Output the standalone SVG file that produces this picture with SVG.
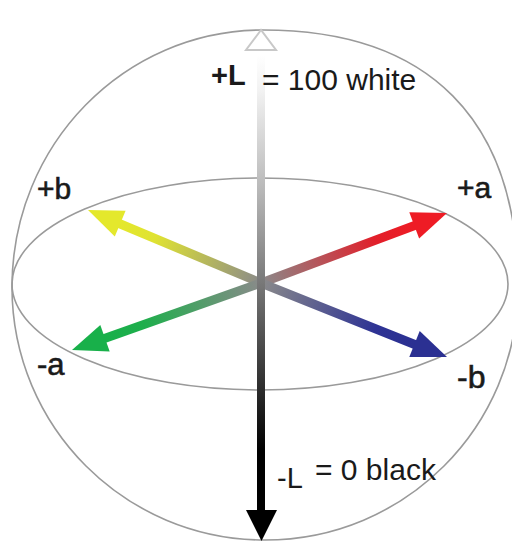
<svg xmlns="http://www.w3.org/2000/svg" width="512" height="542" viewBox="0 0 512 542">
<style>
.outline{fill:none;stroke:#9a9a9a;stroke-width:1.6}
.lbl{font-family:"Liberation Sans",Arial,sans-serif;fill:#1a1a1a}
.ax{stroke:#1a1a1a;stroke-width:0.6}
</style>
<defs>
<linearGradient id="gL" gradientUnits="userSpaceOnUse" x1="0" y1="55" x2="0" y2="505">
<stop offset="0" stop-color="#ffffff"/>
<stop offset="0.08" stop-color="#f2f2f2"/>
<stop offset="0.3" stop-color="#b8b8b8"/>
<stop offset="0.5" stop-color="#7a7a7a"/>
<stop offset="0.7" stop-color="#3a3a3a"/>
<stop offset="0.88" stop-color="#000000"/>
</linearGradient>
<linearGradient id="gR" gradientUnits="userSpaceOnUse" x1="261" y1="283" x2="414" y2="225">
<stop offset="0" stop-color="#8a8a8a"/>
<stop offset="0.75" stop-color="#e21f2a"/>
<stop offset="1" stop-color="#ee1c25"/>
</linearGradient>
<linearGradient id="gB" gradientUnits="userSpaceOnUse" x1="261" y1="283" x2="414" y2="344">
<stop offset="0" stop-color="#8a8a8a"/>
<stop offset="0.75" stop-color="#2e3394"/>
<stop offset="1" stop-color="#2b3092"/>
</linearGradient>
<linearGradient id="gY" gradientUnits="userSpaceOnUse" x1="261" y1="283" x2="120" y2="224">
<stop offset="0" stop-color="#8a8a8a"/>
<stop offset="0.75" stop-color="#dfe232"/>
<stop offset="1" stop-color="#e4e82c"/>
</linearGradient>
<linearGradient id="gG" gradientUnits="userSpaceOnUse" x1="261" y1="283" x2="105" y2="338">
<stop offset="0" stop-color="#8a8a8a"/>
<stop offset="0.75" stop-color="#1fae4c"/>
<stop offset="1" stop-color="#18b04a"/>
</linearGradient>
</defs>

<g id="sphere">
<path class="outline" d="M263,30 C429,30 518,120 518,287 C518,427 405,540 265,540 C125,540 12,427 12,287 C12,145 124,30 263,30 Z"/>
<ellipse class="outline" cx="260" cy="284" rx="248" ry="106"/>
</g>

<g id="connectors">
<g id="arrow-plus-a">
<line x1="261" y1="283" x2="416" y2="225" stroke="url(#gR)" stroke-width="9"/>
<polygon points="447,213 409.3,212.2 419.1,238.4" fill="#ee1c25"/>
</g>
<g id="arrow-minus-b">
<line x1="261" y1="283" x2="416" y2="345" stroke="url(#gB)" stroke-width="9"/>
<polygon points="447,357 409.3,357.1 419.7,331" fill="#2b3092"/>
</g>
<g id="arrow-plus-b">
<line x1="261" y1="283" x2="118" y2="223" stroke="url(#gY)" stroke-width="9"/>
<polygon points="88,210 125.6,210.7 114.8,236.5" fill="#e4e82c"/>
</g>
<g id="arrow-minus-a">
<line x1="261" y1="283" x2="103" y2="339" stroke="url(#gG)" stroke-width="9"/>
<polygon points="72,350 100.3,325.1 109.7,351.5" fill="#18b04a"/>
</g>
<g id="axis-L">
<rect x="257" y="50" width="8" height="462" fill="url(#gL)"/>
<polygon points="261,30 246,50 276,50" fill="#ffffff" stroke="#c8c8c8" stroke-width="2"/>
<polygon points="246,510 277,510 261.5,541" fill="#000000"/>
</g>
</g>

<g id="label-L-top">
<text class="lbl" x="211" y="85" font-size="29" font-weight="bold">+L</text>
<text class="lbl" x="262" y="90" font-size="30">= 100 white</text>
</g>
<g id="label-L-bottom">
<text class="lbl" x="277" y="488" font-size="29">-L</text>
<text class="lbl" x="315" y="480" font-size="30">= 0 black</text>
</g>
<g id="label-plus-b"><text class="lbl ax" x="37" y="199" font-size="30">+b</text></g>
<g id="label-plus-a"><text class="lbl ax" x="457" y="198" font-size="30">+a</text></g>
<g id="label-minus-a"><text class="lbl ax" x="37" y="375" font-size="31">-a</text></g>
<g id="label-minus-b"><text class="lbl ax" x="457" y="388" font-size="32">-b</text></g>
</svg>
